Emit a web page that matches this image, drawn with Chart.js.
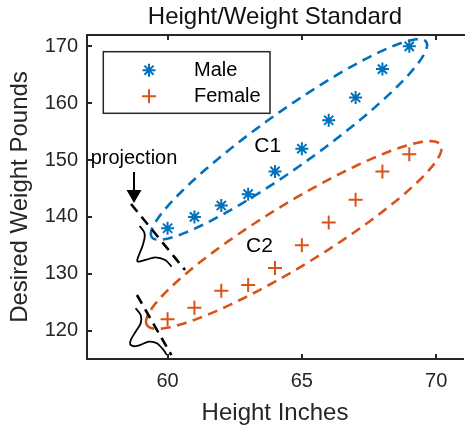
<!DOCTYPE html>
<html>
<head>
<meta charset="utf-8">
<script src="https://cdn.jsdelivr.net/npm/chart.js@4.4.1/dist/chart.umd.min.js"></script>
<style>
  html, body { margin: 0; padding: 0; background: #fff; overflow: hidden; }
  #wrap { position: relative; width: 472px; height: 431px; }
</style>
</head>
<body>
<div id="wrap"><canvas id="heightChart"></canvas></div>
<script>
const heights = [60, 61, 62, 63, 64, 65, 66, 67, 68, 69];
const maleWeights = [138, 140, 142, 144, 148, 152, 157, 161, 166, 170];
const femaleWeights = [122, 124, 127, 128, 131, 135, 139, 143, 148, 151];
const xTicks = [60, 65, 70];
const yTicks = [120, 130, 140, 150, 160, 170];

// cluster outlines in data units: centre, half major axis, half minor axis
const c1Centre = [64.52, 153.62];
const c1Major = [5.11, 17.17];
const c1Minor = [0.58, -4.05];
const c2Centre = [64.70, 136.82];
const c2Major = [5.47, 15.83];
const c2Minor = [0.58, -4.68];

// hand drawn projection sketch (data units)
const projLine1 = [[58.64, 142.27], [60.65, 130.66]];
const projLine2 = [[58.86, 126.26], [60.14, 115.70]];
const bell1 = [[58.96, 138.40], [59.12, 137.40], [59.15, 136.52], [59.08, 135.06], [58.96, 133.60],
  [58.87, 132.42], [58.93, 132.12], [59.18, 132.42], [59.54, 132.89], [59.91, 132.42], [60.15, 131.24]];
const bell2 = [[58.81, 123.92], [59.00, 122.74], [59.00, 121.28], [58.81, 119.80], [58.63, 118.34],
  [58.63, 117.46], [58.87, 117.29], [59.30, 118.04], [59.60, 117.76], [59.85, 116.58], [59.97, 115.70]];
const arrowFrom = [58.75, 147.9];
const arrowTo = [58.75, 142.45];
const projText = [58.75, 150.27];
const c1Text = [63.73, 152.47];
const c2Text = [63.42, 134.79];

const FONT = "'Liberation Sans', Arial, Helvetica, sans-serif";
const BLUE = "#0072BD";
const ORANGE = "#D95319";
const AXIS = "#262626";

function toPoints(xs, ys) {
  return xs.map((x, i) => ({ x: x, y: ys[i] }));
}

function marker(ctx, style, x, y, r, color) {
  ctx.save();
  ctx.strokeStyle = color;
  ctx.lineWidth = 2;
  ctx.beginPath();
  ctx.moveTo(x - r, y); ctx.lineTo(x + r, y);
  ctx.moveTo(x, y - r); ctx.lineTo(x, y + r);
  if (style === "star") {
    const d = r * 0.7071;
    ctx.moveTo(x - d, y - d); ctx.lineTo(x + d, y + d);
    ctx.moveTo(x - d, y + d); ctx.lineTo(x + d, y - d);
  }
  ctx.stroke();
  ctx.restore();
}

function smoothPath(ctx, pts) {
  ctx.moveTo(pts[0][0], pts[0][1]);
  for (let i = 0; i < pts.length - 1; i++) {
    const p0 = pts[i - 1] || pts[i], p1 = pts[i], p2 = pts[i + 1], p3 = pts[i + 2] || p2;
    ctx.bezierCurveTo(
      p1[0] + (p2[0] - p0[0]) / 6, p1[1] + (p2[1] - p0[1]) / 6,
      p2[0] - (p3[0] - p1[0]) / 6, p2[1] - (p3[1] - p1[1]) / 6,
      p2[0], p2[1]);
  }
}

const sketchPlugin = {
  id: "sketch",
  beforeDatasetsDraw(chart) {
    const { ctx, scales: { x, y } } = chart;
    const px = p => [x.getPixelForValue(p[0]), y.getPixelForValue(p[1])];

    function ellipse(c, u, v, color) {
      ctx.save();
      ctx.strokeStyle = color;
      ctx.lineWidth = 2.6;
      ctx.setLineDash([10, 6.5]);
      ctx.beginPath();
      for (let k = 0; k <= 160; k++) {
        const t = Math.PI * 2 * k / 160 + Math.PI;
        const p = px([c[0] + u[0] * Math.cos(t) + v[0] * Math.sin(t),
                      c[1] + u[1] * Math.cos(t) + v[1] * Math.sin(t)]);
        if (k === 0) ctx.moveTo(p[0], p[1]); else ctx.lineTo(p[0], p[1]);
      }
      ctx.stroke();
      ctx.restore();
    }
    ellipse(c1Centre, c1Major, c1Minor, BLUE);
    ellipse(c2Centre, c2Major, c2Minor, ORANGE);

    ctx.save();
    ctx.strokeStyle = "#000";
    ctx.lineWidth = 2.6;
    ctx.setLineDash([10, 6.5]);
    [projLine1, projLine2].forEach(seg => {
      const a = px(seg[0]), b = px(seg[1]);
      ctx.beginPath();
      ctx.moveTo(a[0], a[1]);
      ctx.lineTo(b[0], b[1]);
      ctx.stroke();
    });
    ctx.setLineDash([]);
    ctx.lineWidth = 1.8;
    [bell1, bell2].forEach(b => {
      ctx.beginPath();
      smoothPath(ctx, b.map(px));
      ctx.stroke();
    });

    // arrow
    const a0 = px(arrowFrom), a1 = px(arrowTo);
    ctx.lineWidth = 2;
    ctx.beginPath();
    ctx.moveTo(a0[0], a0[1]);
    ctx.lineTo(a1[0], a1[1] - 10);
    ctx.stroke();
    ctx.fillStyle = "#000";
    ctx.beginPath();
    ctx.moveTo(a1[0], a1[1]);
    ctx.lineTo(a1[0] - 7.5, a1[1] - 13);
    ctx.lineTo(a1[0] + 7.5, a1[1] - 13);
    ctx.closePath();
    ctx.fill();

    ctx.font = "20px " + FONT;
    ctx.textAlign = "center";
    ctx.textBaseline = "middle";
    let p = px(projText);
    ctx.fillText("projection", p[0], p[1]);
    ctx.font = "21px " + FONT;
    p = px(c1Text);
    ctx.fillText("C1", p[0], p[1]);
    p = px(c2Text);
    ctx.fillText("C2", p[0], p[1]);
    ctx.restore();
  },
  afterDraw(chart) {
    const { ctx, chartArea: ca, scales: { x, y } } = chart;
    ctx.save();
    ctx.strokeStyle = AXIS;
    ctx.lineWidth = 2;
    ctx.beginPath();
    ctx.moveTo(ca.left - 1, ca.top);
    ctx.lineTo(ca.right + 5, ca.top);
    xTicks.forEach(v => {
      const xp = Math.round(x.getPixelForValue(v));
      ctx.moveTo(xp, ca.bottom);
      ctx.lineTo(xp, ca.bottom - 5);
      ctx.moveTo(xp, ca.top);
      ctx.lineTo(xp, ca.top + 5);
    });
    yTicks.forEach(v => {
      const yp = Math.round(y.getPixelForValue(v));
      ctx.moveTo(ca.left, yp);
      ctx.lineTo(ca.left + 5, yp);
    });
    ctx.stroke();

    // legend box
    const lx = ca.left + 16.3, ly = ca.top + 16.7, lw = 166.7, lh = 61.6;
    ctx.fillStyle = "#fff";
    ctx.fillRect(lx, ly, lw, lh);
    ctx.lineWidth = 1.5;
    ctx.strokeStyle = AXIS;
    ctx.strokeRect(lx, ly, lw, lh);
    ctx.font = "20px " + FONT;
    ctx.fillStyle = "#000";
    ctx.textAlign = "left";
    ctx.textBaseline = "middle";
    chart.data.datasets.forEach((ds, i) => {
      const ry = ly + 18.5 + i * 26;
      marker(ctx, ds.pointStyle, lx + 45.7, ry, ds.pointRadius, ds.borderColor);
      ctx.fillText(ds.label, lx + 90.7, ry);
    });
    ctx.restore();
  }
};

const tickFont = { family: FONT, size: 20 };
const labelFont = { family: FONT, size: 24 };

new Chart(document.getElementById("heightChart"), {
  type: "scatter",
  data: {
    datasets: [
      {
        label: "Male",
        data: toPoints(heights, maleWeights),
        pointStyle: "star",
        pointRadius: 6.5,
        pointBorderWidth: 2,
        borderColor: BLUE,
        backgroundColor: BLUE
      },
      {
        label: "Female",
        data: toPoints(heights, femaleWeights),
        pointStyle: "cross",
        pointRadius: 7,
        pointBorderWidth: 2,
        borderColor: ORANGE,
        backgroundColor: ORANGE
      }
    ]
  },
  options: {
    responsive: true,
    maintainAspectRatio: false,
    devicePixelRatio: 1,
    animation: false,
    layout: { padding: { right: 1 } },
    plugins: {
      legend: { display: false },
      tooltip: { enabled: false },
      title: {
        display: true,
        fullSize: false,
        text: "Height/Weight Standard",
        color: "#111",
        font: { family: FONT, size: 24, weight: "normal" },
        padding: { top: 3, bottom: 3.2 }
      }
    },
    scales: {
      x: {
        type: "linear",
        min: 57,
        max: 71,
        afterBuildTicks: s => { s.ticks = xTicks.map(v => ({ value: v })); },
        afterFit: s => { s.height = 72; },
        grid: { display: false, drawTicks: false },
        border: { display: true, color: AXIS, width: 2 },
        ticks: { padding: 10.5, color: AXIS, font: tickFont, maxRotation: 0 },
        title: { display: true, text: "Height Inches", color: AXIS, font: labelFont, padding: { top: 0, bottom: 3 } }
      },
      y: {
        type: "linear",
        min: 115,
        max: 172,
        afterBuildTicks: s => { s.ticks = yTicks.map(v => ({ value: v })); },
        afterFit: s => { s.width = 87; },
        grid: { display: false, drawTicks: false },
        border: { display: true, color: AXIS, width: 2 },
        ticks: { padding: 9, color: AXIS, font: tickFont },
        title: { display: true, text: "Desired Weight Pounds", color: AXIS, font: labelFont, padding: { top: 6, bottom: 0 } }
      }
    }
  },
  plugins: [sketchPlugin]
});
</script>
</body>
</html>
